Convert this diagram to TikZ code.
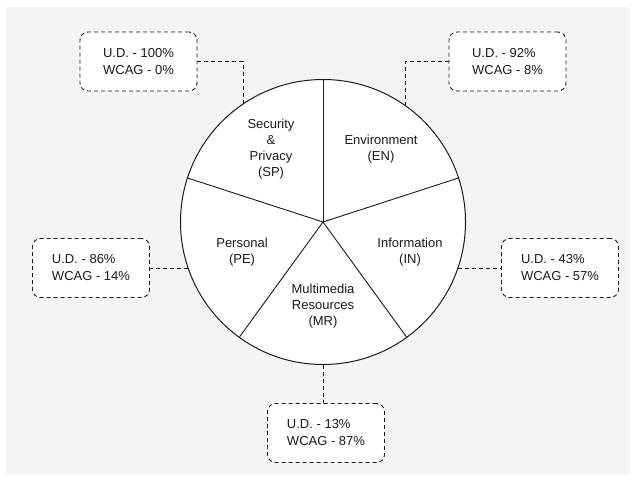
\documentclass[tikz,border=0pt]{standalone}
\usepackage{fontspec}
\setmainfont{Liberation Sans}
\definecolor{bggray}{HTML}{F4F4F4}
\definecolor{ink}{HTML}{1A1A1A}
\tikzset{
  valbox/.style={draw=ink, line width=0.9pt, dash pattern=on 4pt off 3pt, rounded corners=8pt,
    fill=white, minimum width=117pt, minimum height=59pt, align=left, inner sep=0pt,
    font=\fontsize{13}{17}\selectfont, text=ink},
  seglabel/.style={align=center, font=\fontsize{13}{16}\selectfont, text=ink},
  conn/.style={draw=ink, line width=0.9pt, dash pattern=on 4pt off 3pt},
  spoke/.style={draw=ink, line width=0.9pt}
}
\begin{document}
\begin{tikzpicture}[x=1pt,y=-1pt]
\useasboundingbox (0,0) rectangle (636,481);
\fill[white] (0,0) rectangle (636,481);
\fill[bggray] (6,7) rectangle (630,474);
% pie
\node[circle, draw=ink, fill=white, line width=1pt, minimum size=285pt, inner sep=0pt] (pie) at (323,222) {};
\draw[spoke] (pie.center) -- (pie.90);
\draw[spoke] (pie.center) -- (pie.18);
\draw[spoke] (pie.center) -- (pie.-54);
\draw[spoke] (pie.center) -- (pie.-126);
\draw[spoke] (pie.center) -- (pie.162);
% segment labels
\node[seglabel] (lsp) at (271,149) {Security\\\&\\Privacy\\(SP)};
\node[seglabel] (len) at (381,149) {Environment\\(EN)};
\node[seglabel] (lin) at (410,252) {Information\\(IN)};
\node[seglabel] (lpe) at (242,252) {Personal\\(PE)};
\node[seglabel] (lmr) at (323,306) {Multimedia\\Resources\\(MR)};
% boxes
\node[valbox] (bsp) at (138.5,61.5) {U.D. - 100\%\\WCAG - 0\%};
\node[valbox] (ben) at (507.5,61.5) {U.D. - 92\%\\WCAG - 8\%};
\node[valbox] (bpe) at (91,268) {U.D. - 86\%\\WCAG - 14\%};
\node[valbox] (bin) at (560,268) {U.D. - 43\%\\WCAG - 57\%};
\node[valbox] (bmr) at (326,433) {U.D. - 13\%\\WCAG - 87\%};
% connectors
\draw[conn] (bsp.east) -| (pie.124.15);
\draw[conn] (ben.west) -| (pie.55.85);
\draw[conn] (pie.199.26) -- (pie.199.26 -| bpe.east);
\draw[conn] (pie.-19.26) -- (pie.-19.26 -| bin.west);
\draw[conn] (pie.south) -- (pie.south |- bmr.north);
\end{tikzpicture}
\end{document}
